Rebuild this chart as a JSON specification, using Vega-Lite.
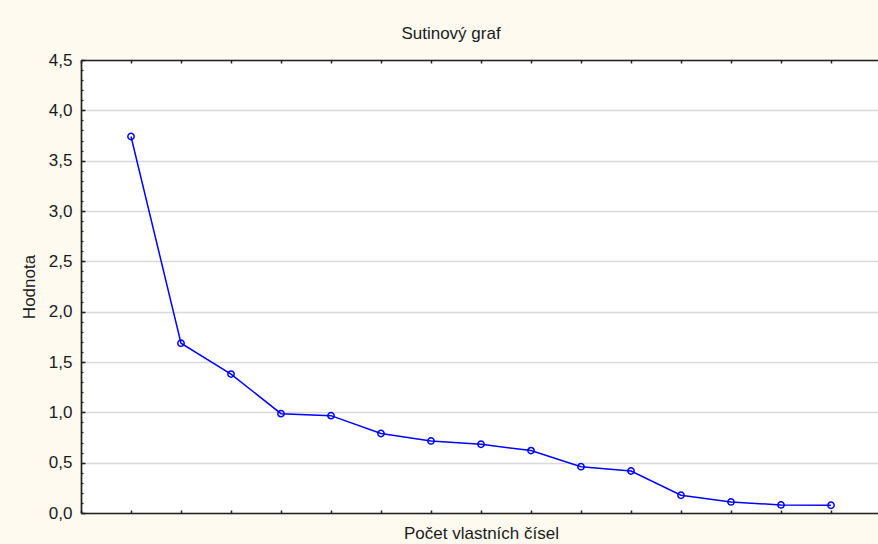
{
  "$schema": "https://vega.github.io/schema/vega-lite/v6.json",
  "width": 800,
  "height": 453,
  "autosize": {"type": "none"},
  "padding": {"left": 81, "top": 60, "right": 0, "bottom": 31},
  "background": "#FEFAF0",
  "config": {
    "view": {"fill": "white", "stroke": null},
    "font": "Liberation Sans",
    "axis": {
      "labelFont": "Liberation Sans",
      "titleFont": "Liberation Sans",
      "labelColor": "#1a1a1a",
      "titleColor": "#1a1a1a",
      "labelFontSize": 17,
      "titleFontSize": 17,
      "titleFontWeight": "normal",
      "domainColor": "#222222",
      "tickColor": "#222222",
      "domainWidth": 1.7,
      "tickWidth": 1.5
    }
  },
  "title": {
    "text": "Sutinový graf",
    "fontSize": 17,
    "fontWeight": "normal",
    "font": "Liberation Sans",
    "color": "#1a1a1a",
    "anchor": "middle",
    "frame": "group",
    "baseline": "alphabetic",
    "offset": 19,
    "dx": -30,
    "dy": 24
  },
  "data": {
    "values": [
      {"n": 1, "v": 3.74},
      {"n": 2, "v": 1.687},
      {"n": 3, "v": 1.38},
      {"n": 4, "v": 0.987},
      {"n": 5, "v": 0.967},
      {"n": 6, "v": 0.79},
      {"n": 7, "v": 0.716},
      {"n": 8, "v": 0.683},
      {"n": 9, "v": 0.62},
      {"n": 10, "v": 0.46},
      {"n": 11, "v": 0.417},
      {"n": 12, "v": 0.176},
      {"n": 13, "v": 0.11},
      {"n": 14, "v": 0.08},
      {"n": 15, "v": 0.077}
    ]
  },
  "layer": [
    {
      "mark": {"type": "line", "color": "#0000FF", "strokeWidth": 1.5},
      "encoding": {
        "x": {
          "field": "n",
          "type": "quantitative",
          "scale": {"domain": [0, 16], "nice": false, "zero": false},
          "axis": {
            "orient": "bottom",
            "title": "Počet vlastních čísel",
            "labels": false,
            "grid": false,
            "values": [0, 1, 2, 3, 4, 5, 6, 7, 8, 9, 10, 11, 12, 13, 14, 15, 16],
            "tickSize": -3,
            "titleBaseline": "alphabetic",
            "titlePadding": 25
          }
        },
        "y": {
          "field": "v",
          "type": "quantitative",
          "scale": {"domain": [0, 4.5], "nice": false},
          "axis": {
            "orient": "left",
            "title": "Hodnota",
            "values": [0, 0.5, 1, 1.5, 2, 2.5, 3, 3.5, 4, 4.5],
            "format": ".1f",
            "formatType": "number",
            "labelExpr": "replace(datum.label, '.', ',')",
            "grid": true,
            "gridColor": "#d9d9d9",
            "gridWidth": 1.5,
            "tickSize": -4,
            "labelPadding": 13,
            "titlePadding": 10
          }
        }
      }
    },
    {
      "mark": {"type": "point", "color": "#0000FF", "filled": false, "size": 40, "strokeWidth": 1.5, "opacity": 1},
      "encoding": {
        "x": {
          "field": "n",
          "type": "quantitative",
          "scale": {"domain": [0, 16], "nice": false, "zero": false},
          "axis": {
            "orient": "top",
            "title": null,
            "labels": false,
            "grid": false,
            "values": [0, 1, 2, 3, 4, 5, 6, 7, 8, 9, 10, 11, 12, 13, 14, 15, 16],
            "tickSize": -3
          }
        },
        "y": {
          "field": "v",
          "type": "quantitative",
          "scale": {"domain": [0, 4.5], "nice": false},
          "axis": {
            "orient": "left",
            "title": null,
            "labels": false,
            "grid": false,
            "domain": false,
            "tickCount": 45,
            "tickSize": -2,
            "tickWidth": 1.2
          }
        }
      }
    }
  ],
  "resolve": {"axis": {"x": "independent", "y": "independent"}}
}
